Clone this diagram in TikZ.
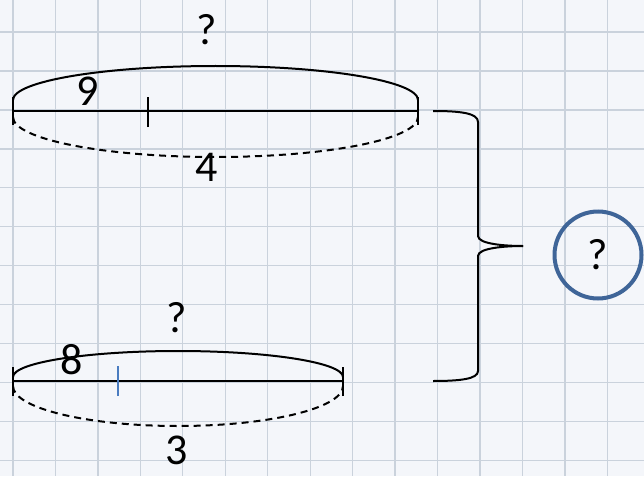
\documentclass[tikz,border=0pt]{standalone}
\usepackage{fontspec}
\setmainfont{Carlito}
\definecolor{paper}{HTML}{F4F6FA}
\definecolor{gridc}{HTML}{CAD2DC}
\definecolor{ringc}{HTML}{3F6598}
\definecolor{tickblue}{HTML}{4A7CC0}
\tikzset{
  gridline/.style={draw=gridc,line width=1.3pt},
  seg/.style={draw=black,line width=2pt},
  arcsolid/.style={draw=black,line width=2pt},
  arcdash/.style={draw=black,line width=2pt,dash pattern=on 7pt off 5pt},
  lbl/.style={font=\fontsize{44}{44}\selectfont,inner sep=0pt},
  ring/.style={circle,draw=ringc,line width=4pt,minimum size=87pt,inner sep=0pt,font=\fontsize{44}{44}\selectfont}
}
\begin{document}
\begin{tikzpicture}[x=1pt,y=-1pt]
\useasboundingbox (0,0) rectangle (644,476);
\fill[paper] (0,0) rectangle (644,476);
% grid
\foreach \i in {0,...,15} {\draw[gridline] ({13+42.45*\i},0) -- ({13+42.45*\i},476);}
\foreach \j in {0,...,11} {\draw[gridline] (0,{32+38.95*\j}) -- (644,{32+38.95*\j});}
% top segment
\coordinate (A1) at (13,111);
\coordinate (A2) at (148,111);
\coordinate (A3) at (418,111);
\draw[seg] (A1) -- (A3);
\draw[seg] ([yshift=-14pt]A1) -- ([yshift=14pt]A1);
\draw[seg] ([yshift=-16pt]A2) -- ([yshift=14pt]A2);
\draw[seg] ([yshift=-14pt]A3) -- ([yshift=14pt]A3);
\draw[arcsolid] (13,100) arc[start angle=180,end angle=360,x radius=202.5,y radius=34];
\draw[arcdash] (13,117) arc[start angle=180,end angle=0,x radius=202.5,y radius=40];
\node[lbl] (q1) at (207,30) {?};
\node[lbl] (n9) at (88,91) {9};
\node[lbl] (n4) at (207,167) {4};
% bottom segment
\coordinate (B1) at (13,381);
\coordinate (B2) at (118,381);
\coordinate (B3) at (343,381);
\draw[seg] (B1) -- (B3);
\draw[seg] ([yshift=-15pt]B1) -- ([yshift=14pt]B1);
\draw[draw=tickblue,line width=2pt] ([yshift=-15pt]B2) -- ([yshift=15pt]B2);
\draw[seg] ([yshift=-15pt]B3) -- ([yshift=14pt]B3);
\draw[arcsolid] (13,377) arc[start angle=180,end angle=360,x radius=165,y radius=26];
\draw[arcdash] (13,386) arc[start angle=180,end angle=0,x radius=165,y radius=40];
\node[lbl] (q2) at (177,318) {?};
\node[lbl] (n8) at (72,360) {8};
\node[lbl] (n3) at (177,450) {3};
% brace
\coordinate (T) at (433,111);
\coordinate (Bt) at (433,381);
\coordinate (tip) at (523,246);
\draw[seg] (T) .. controls (460,111) and (478,113) .. (478,122) -- (478,236)
  .. controls (478,244) and (505,246) .. (tip);
\draw[seg] (tip) .. controls (505,246) and (478,248) .. (478,256) -- (478,371)
  .. controls (478,379) and (460,381) .. (Bt);
% circle
\node[ring] (ans) at (598,255) {?};
\end{tikzpicture}
\end{document}
